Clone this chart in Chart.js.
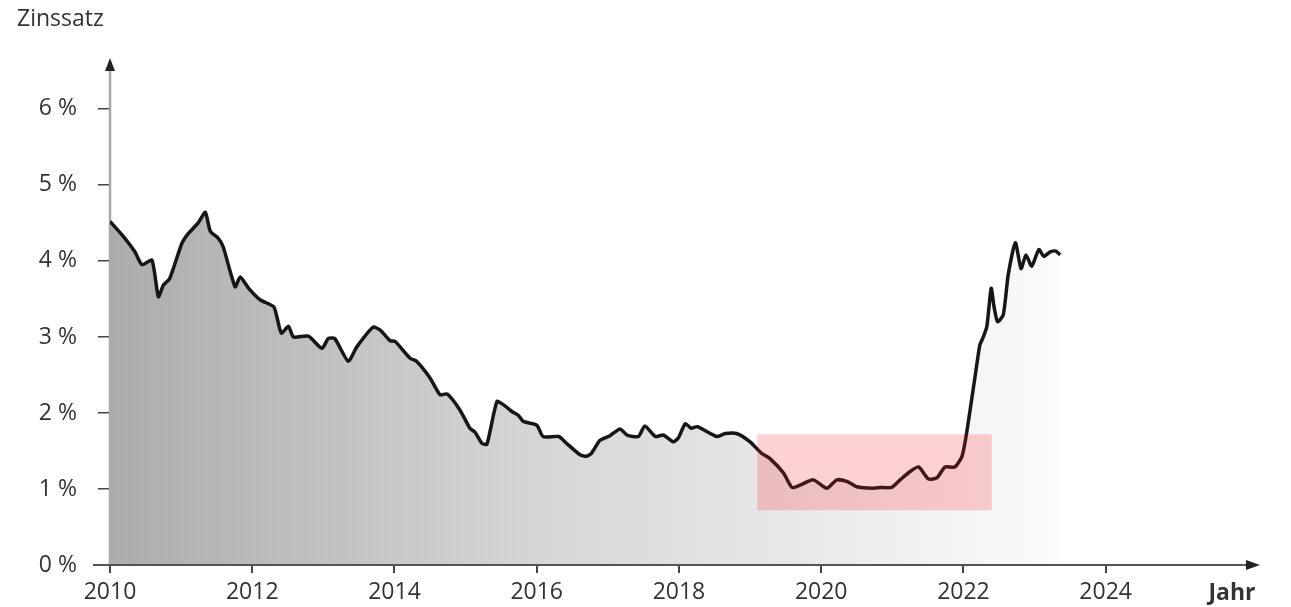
<!DOCTYPE html>
<html>
<head>
<meta charset="utf-8">
<script src="https://cdn.jsdelivr.net/npm/chart.js"></script>
<style>
  html, body { margin: 0; padding: 0; background: #fff; }
  #wrap { width: 1291px; height: 607px; }
</style>
</head>
<body>
<div id="wrap"><canvas id="chart"></canvas></div>
<script>
// Zinssatz
var years = [2010.00, 2010.19, 2010.35, 2010.45, 2010.59, 2010.68, 2010.75, 2010.84, 2011.01, 2011.10,
  2011.24, 2011.34, 2011.41, 2011.52, 2011.59, 2011.76, 2011.83, 2011.95, 2012.11, 2012.30,
  2012.34, 2012.41, 2012.51, 2012.58, 2012.79, 2012.98, 2013.07, 2013.16, 2013.35, 2013.47,
  2013.70, 2013.80, 2013.94, 2014.01, 2014.22, 2014.31, 2014.50, 2014.64, 2014.74, 2014.92,
  2015.06, 2015.13, 2015.23, 2015.30, 2015.44, 2015.53, 2015.65, 2015.74, 2015.81, 2016.00,
  2016.09, 2016.31, 2016.42, 2016.61, 2016.70, 2016.77, 2016.89, 2017.03, 2017.17, 2017.27,
  2017.43, 2017.52, 2017.67, 2017.78, 2017.92, 2017.99, 2018.09, 2018.17, 2018.26, 2018.53,
  2018.65, 2018.81, 2019.00, 2019.16, 2019.28, 2019.47, 2019.59, 2019.70, 2019.89, 2020.08,
  2020.22, 2020.36, 2020.50, 2020.74, 2020.83, 2020.99, 2021.11, 2021.25, 2021.37, 2021.51,
  2021.63, 2021.74, 2021.88, 2021.98, 2022.04, 2022.10, 2022.17, 2022.23, 2022.28, 2022.33,
  2022.39, 2022.43, 2022.48, 2022.56, 2022.63, 2022.73, 2022.81, 2022.88, 2022.96, 2023.06,
  2023.13, 2023.22, 2023.30, 2023.36]
var rates = [4.52, 4.32, 4.12, 3.95, 4.01, 3.53, 3.68, 3.77, 4.23, 4.36,
  4.50, 4.64, 4.39, 4.30, 4.19, 3.66, 3.79, 3.64, 3.49, 3.40,
  3.29, 3.05, 3.14, 3.00, 3.01, 2.85, 2.98, 2.98, 2.68, 2.87,
  3.13, 3.09, 2.95, 2.94, 2.72, 2.68, 2.46, 2.24, 2.25, 2.04,
  1.80, 1.75, 1.60, 1.59, 2.15, 2.11, 2.02, 1.97, 1.89, 1.84,
  1.69, 1.69, 1.60, 1.45, 1.43, 1.47, 1.64, 1.70, 1.79, 1.71,
  1.69, 1.83, 1.69, 1.71, 1.62, 1.67, 1.86, 1.80, 1.82, 1.69,
  1.73, 1.73, 1.62, 1.47, 1.40, 1.21, 1.02, 1.05, 1.12, 1.01,
  1.12, 1.10, 1.03, 1.01, 1.02, 1.02, 1.12, 1.23, 1.29, 1.13,
  1.15, 1.29, 1.29, 1.43, 1.71, 2.08, 2.52, 2.89, 3.00, 3.14,
  3.64, 3.40, 3.20, 3.29, 3.82, 4.24, 3.90, 4.08, 3.93, 4.15,
  4.06, 4.12, 4.13, 4.08]
var xTicks = [2010, 2012, 2014, 2016, 2018, 2020, 2022, 2024]
var yTicks = [0, 1, 2, 3, 4, 5, 6]
// highlighted box (years, percent)
var boxX = [2019.1, 2022.4]
var boxY = [0.72, 1.72]

var font = "'Open Sans', 'Noto Sans', sans-serif"

var extras = {
  id: 'extras',
  beforeDatasetsDraw: function(chart){
    var c = chart.ctx, a = chart.chartArea
    c.save()
    // y axis
    c.strokeStyle = '#a8a8a8'; c.lineWidth = 2.5
    c.beginPath(); c.moveTo(a.left, a.bottom); c.lineTo(a.left, a.top + 8); c.stroke()
    c.restore()
  },
  afterDatasetsDraw: function(chart){
    var c = chart.ctx, a = chart.chartArea
    var xs = chart.scales.x, ys = chart.scales.y
    c.save()
    var x0 = xs.getPixelForValue(boxX[0]), x1 = xs.getPixelForValue(boxX[1])
    var y0 = ys.getPixelForValue(boxY[1]), y1 = ys.getPixelForValue(boxY[0])
    c.fillStyle = 'rgba(250,30,30,0.2)'
    c.fillRect(x0, y0, x1 - x0, y1 - y0)

    // x axis
    c.strokeStyle = '#555'; c.lineWidth = 2
    c.beginPath(); c.moveTo(a.left - 17, a.bottom); c.lineTo(a.right - 6, a.bottom); c.stroke()
    c.fillStyle = '#222'
    c.beginPath(); c.moveTo(a.right, a.bottom); c.lineTo(a.right - 14, a.bottom - 5); c.lineTo(a.right - 14, a.bottom + 5); c.closePath(); c.fill()
    // y arrow
    c.beginPath(); c.moveTo(a.left, a.top); c.lineTo(a.left - 5, a.top + 13); c.lineTo(a.left + 5, a.top + 13); c.closePath(); c.fill()

    c.fillStyle = '#333'
    c.font = '23px ' + font
    c.textBaseline = 'middle'; c.textAlign = 'left'
    c.fillText('Zinssatz', 17, 19)
    c.font = 'bold 23px ' + font
    c.textAlign = 'center'
    c.fillText('Jahr', 1232, 593)
    c.restore()
  }
}

var mychart = document.getElementById('chart').getContext('2d')
var chart = new Chart(mychart, {
  type: 'line',
  data: {
    datasets: [{
      data: years.map(function(x, i){ return { x: x, y: rates[i] } }),
      borderColor: '#161616',
      borderWidth: 3.5,
      pointRadius: 0,
      tension: 0.2,
      fill: 'origin',
      backgroundColor: function(ctx){
        var a = ctx.chart.chartArea
        if (!a) return '#ccc'
        var g = ctx.chart.ctx.createLinearGradient(a.left, 0, ctx.chart.scales.x.getPixelForValue(2023.4), 0)
        g.addColorStop(0, '#acacac')
        g.addColorStop(0.44, '#d5d5d5')
        g.addColorStop(0.86, '#f2f2f2')
        g.addColorStop(1, '#fbfbfb')
        return g
      }
    }]
  },
  options: {
    responsive: true,
    maintainAspectRatio: false,
    animation: false,
    layout: { padding: { left: 0, right: 31, top: 58, bottom: 0 } },
    plugins: { legend: { display: false }, tooltip: { enabled: false } },
    scales: {
      x: {
        type: 'linear', min: 2010, max: 2026.17,
        afterBuildTicks: function(s){ s.ticks = xTicks.map(function(v){ return { value: v } }) },
        afterFit: function(s){ s.height = 42 },
        border: { display: false },
        grid: { drawOnChartArea: false, drawTicks: true, tickLength: 8, color: '#444', lineWidth: 2 },
        ticks: { color: '#333', font: { family: font, size: 23 }, padding: 6, maxRotation: 0,
          callback: function(v){ return String(v) } }
      },
      y: {
        min: 0, max: 6.67,
        afterBuildTicks: function(s){ s.ticks = yTicks.map(function(v){ return { value: v } }) },
        afterFit: function(s){ s.width = 110 },
        border: { display: false },
        grid: { drawOnChartArea: false, drawTicks: true, tickLength: 12, color: '#444', lineWidth: 1.5 },
        ticks: { color: '#333', font: { family: font, size: 23 }, padding: 21,
          callback: function(v){ return v + ' %' } }
      }
    }
  },
  plugins: [extras]
})
</script>
</body>
</html>
